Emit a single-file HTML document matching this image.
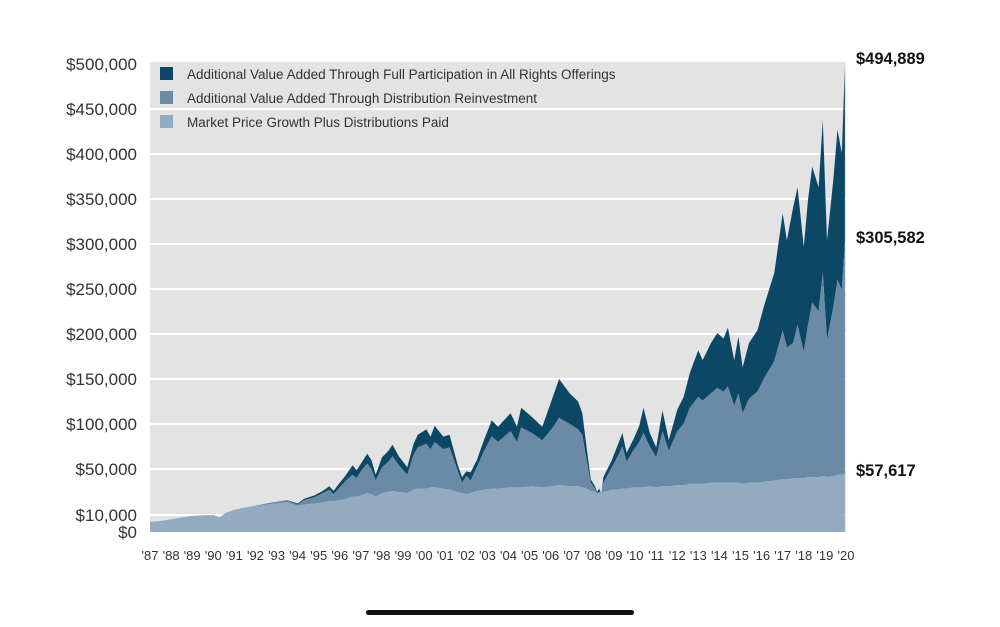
<!DOCTYPE html>
<html><head><meta charset="utf-8"><style>
body{margin:0;background:#fff;width:1000px;height:622px;overflow:hidden;font-family:"Liberation Sans",sans-serif;}
svg text{font-family:"Liberation Sans",sans-serif;}
</style></head><body>
<svg id="chart" width="1000" height="622" viewBox="0 0 1000 622" xmlns="http://www.w3.org/2000/svg">
<rect x="150" y="62" width="696" height="470" fill="#e3e3e3"/>
<g id="grid"></g>
<g id="areas"></g>
<g id="yticks"></g>
<g id="xticks"></g>
<g>
<rect x="160" y="67" width="13" height="13" fill="#0c4866"/>
<text x="187" y="79" font-size="13.5" fill="#333">Additional Value Added Through Full Participation in All Rights Offerings</text>
<rect x="160" y="91" width="13" height="13" fill="#6a8aa5"/>
<text x="187" y="103" font-size="13.5" fill="#333">Additional Value Added Through Distribution Reinvestment</text>
<rect x="160" y="115" width="13" height="13" fill="#93abc1"/>
<text x="187" y="127" font-size="13.5" fill="#333">Market Price Growth Plus Distributions Paid</text>
</g>
<text x="856" y="64" font-size="16.5" font-weight="bold" fill="#111">$494,889</text>
<text x="856" y="243" font-size="16.5" font-weight="bold" fill="#111">$305,582</text>
<text x="856" y="476" font-size="16.5" font-weight="bold" fill="#111">$57,617</text>
<rect x="366" y="610" width="268" height="5" rx="2.5" fill="#111"/>
</svg>
<script>
const years=[1987.0,1987.5,1988.0,1988.5,1989.0,1989.5,1990.0,1990.3,1990.6,1991.0,1991.5,1992.0,1992.5,1993.0,1993.5,1994.0,1994.3,1994.8,1995.2,1995.5,1995.7,1996.0,1996.3,1996.6,1996.8,1997.0,1997.3,1997.5,1997.7,1998.0,1998.3,1998.5,1998.8,1999.2,1999.5,1999.7,2000.1,2000.3,2000.5,2000.9,2001.2,2001.6,2001.8,2002.0,2002.2,2002.5,2002.8,2003.2,2003.5,2004.1,2004.4,2004.6,2005.1,2005.6,2006.1,2006.4,2006.9,2007.3,2007.5,2007.7,2007.9,2008.1,2008.2,2008.3,2008.4,2008.5,2008.9,2009.2,2009.4,2009.6,2009.9,2010.2,2010.4,2010.7,2011.0,2011.3,2011.6,2012.0,2012.3,2012.6,2013.0,2013.2,2013.6,2013.9,2014.2,2014.4,2014.7,2014.9,2015.1,2015.4,2015.8,2016.1,2016.6,2017.0,2017.2,2017.5,2017.7,2018.0,2018.2,2018.4,2018.7,2018.9,2019.1,2019.4,2019.6,2019.8,2019.95];
const marketTotal=[6,6.5,7.5,8.5,9.5,9.8,10,8.5,12,14.5,16.5,17.5,19,20,21,18,19,20,21,22,22,23,24,26,26,27,29,28,26,29,30,31,30,29,32,33,33,34,34,33,32,30,29,28,29,31,32,33,33,34,34,34,35,34,35,36,35,35,34,33,31,30,29,30,29,30,32,32,33,33,34,34,34,35,34,35,35,36,36,37,37,37,38,38,38,38,38,38,37,38,38,39,40,41,41,42,42,42,43,43,43,44,43,44,45,45,46];
const reinvestTotal=[6,6.5,7.5,8.5,9.5,9.8,10,8.5,12,14.5,16.5,18,20,21.5,22.5,19,23,25.5,29,32,28,34,40,45,42,48,56,50,40,52,58,64,54,45,66,74,78,72,80,72,74,48,38,44,40,52,68,86,80,92,80,96,90,82,96,107,100,94,88,60,38,33,29,30,29,38,52,65,75,58,70,80,90,75,63,92,70,92,100,118,130,126,134,140,136,142,120,134,112,128,136,150,170,204,185,190,210,180,210,235,225,268,193,230,260,249,301];
const rightsTotal=[6,6.5,7.5,8.5,9.5,9.8,10,8.5,12,14.5,16.5,18,20,21.5,23,20,24,27,31,35,31,38,45,54,49,56,67,60,45,63,70,77,64,52,78,88,94,86,98,86,88,54,43,48,47,60,80,104,97,112,97,118,108,97,130,150,134,125,112,74,41,35,30,33,28,43,60,78,90,68,82,98,118,90,74,115,82,116,130,157,182,171,190,201,195,207,171,197,163,190,204,230,268,334,304,341,363,297,349,386,363,438,304,371,427,401,497];
const yTickVals=[0,10000,50000,100000,150000,200000,250000,300000,350000,400000,450000,500000];
const yTickLabels=["$0","$10,000","$50,000","$100,000","$150,000","$200,000","$250,000","$300,000","$350,000","$400,000","$450,000","$500,000"];
const xTickLabels=["'87","'88","'89","'90","'91","'92","'93","'94","'95","'96","'97","'98","'99","'00","'01","'02","'03","'04","'05","'06","'07","'08","'09","'10","'11","'12","'13","'14","'15","'16","'17","'18","'19","'20"];

const NS="http://www.w3.org/2000/svg";
function xs(yr){return 150+(yr-1987)*21.09;}
function ysK(k){ // value in thousands
  if(k<=10) return 532-k*1.7;
  if(k<=50) return 515-(k-10)*1.15;
  return 469-(k-50)*0.9;
}
function mk(tag,attrs){const e=document.createElementNS(NS,tag);for(const k in attrs)e.setAttribute(k,attrs[k]);return e;}
const grid=document.getElementById('grid');
yTickVals.forEach((v,i)=>{
  if(v===0||v===500000) return;
  const y=ysK(v/1000);
  const l=mk('line',{x1:150,x2:846,y1:y,y2:y,stroke:'#fff','stroke-width':2});
  
  
  grid.appendChild(l);
});
function areaPath(top,bottom){
  let d='';
  years.forEach((yr,i)=>{d+=(i?'L':'M')+xs(yr).toFixed(1)+','+ysK(top[i]).toFixed(1);});
  for(let i=years.length-1;i>=0;i--){d+='L'+xs(years[i]).toFixed(1)+','+(bottom?ysK(bottom[i]):532).toFixed(1);}
  return d+'Z';
}
const areas=document.getElementById('areas');
const a1=mk('path',{d:areaPath(rightsTotal,reinvestTotal),fill:'#0c4866'});


areas.appendChild(a1);
const a2=mk('path',{d:areaPath(reinvestTotal,marketTotal),fill:'#6a8aa5'});


areas.appendChild(a2);
const a3=mk('path',{d:areaPath(marketTotal,null),fill:'#93abc1'});


areas.appendChild(a3);
const yt=document.getElementById('yticks');
yTickVals.forEach((v,i)=>{
  const t=mk('text',{x:137,y:ysK(v/1000)+6,'font-size':17,'text-anchor':'end',fill:'#333'});
  t.textContent=yTickLabels[i];
  
  
  yt.appendChild(t);
});
const xt=document.getElementById('xticks');
xTickLabels.forEach((s,i)=>{
  const t=mk('text',{x:xs(1987+i),y:560,'font-size':13,'text-anchor':'middle',fill:'#333'});
  t.textContent=s;
  
  
  xt.appendChild(t);
});
</script>
</body></html>
